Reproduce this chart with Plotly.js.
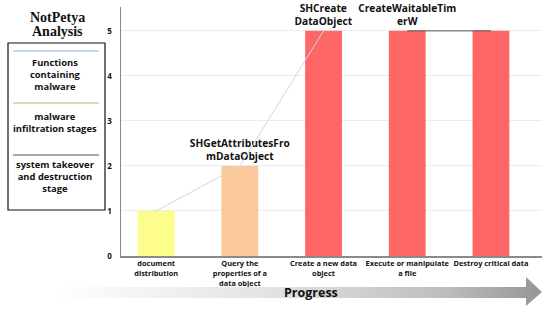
<!DOCTYPE html>
<html><head><meta charset="utf-8">
<script src="https://cdn.plot.ly/plotly-3.0.1.min.js"></script>
<style>html,body{margin:0;padding:0;background:#fff}#chart{width:550px;height:311px}</style>
</head><body><div id="chart"></div>
<script>
// ---- data ----
const categories = ['document<br>distribution','Query the<br>properties of a<br>data object','Create a new data<br>object','Execute or manipulate<br>a file','Destroy critical data'];
const values = [1, 2, 5, 5, 5];
const apiLabels = ['', 'SHGetAttributesFro<br>mDataObject', 'SHCreate<br>DataObject', 'CreateWaitableTim<br>erW', ''];
const barColors = ['#fdfd8e', '#f9c99b', '#ff6767', '#ff6767', '#ff6767'];
const infiltrationX = [categories[0], categories[1]];
const infiltrationY = [1, 2];
const functionsX = [categories[1], categories[2]];
const functionsY = [2, 5];
const takeoverX = [categories[3], categories[4]];
const takeoverY = [5, 5];
const legendItems = ['Functions<br>containing<br>malware', 'malware<br>infiltration stages', 'system takeover<br>and destruction<br>stage'];
const legendColors = ['#c6d6ee', '#d8dcbc', '#555555'];
// arrow outline (decoration, figure pixel coords)
const arrowX = [55, 526, 526, 542, 526, 526, 55, 55];
const arrowY = [287, 287, 277, 292, 306, 298, 298, 287];

const W = 550, H = 311;
const F = 'Open Sans, Noto Sans, sans-serif';
const px = v => v / W, py = v => 1 - v / H;

const traces = [
  {type:'scatter', x: arrowX, y: arrowY, xaxis:'x3', yaxis:'y3', mode:'lines', line:{width:0},
   fill:'toself', fillgradient:{type:'horizontal', colorscale:[[0,'#ffffff'],[0.45,'#e2e2e2'],[0.8,'#bdbdbd'],[1,'#959595']]},
   hoverinfo:'skip', showlegend:false},
  {type:'bar', x: categories, y: values, width: 0.44, marker:{color: barColors},
   text: apiLabels, textposition:'outside', constraintext:'none', cliponaxis:false,
   textfont:{family:F, size:10.2, weight:700, color:'#111'}, hoverinfo:'x+y', showlegend:false},
  {type:'scatter', mode:'lines', x: infiltrationX, y: infiltrationY, line:{color: legendColors[1], width:1}, showlegend:false},
  {type:'scatter', mode:'lines', x: functionsX, y: functionsY, line:{color: legendColors[0], width:1}, showlegend:false},
  {type:'scatter', mode:'lines', x: takeoverX, y: takeoverY, line:{color: legendColors[2], width:1}, showlegend:false}
];

const legTop = [51, 103, 155];
const legText = [74, 122, 176];
const shapes = [
  {type:'rect', xref:'paper', yref:'paper', x0:px(8), x1:px(105), y0:py(210), y1:py(43), line:{color:'#111', width:1.2}}
];
const ann = (x, y, text, font) => ({xref:'paper', yref:'paper', x:px(x), y:py(y), xanchor:'center', yanchor:'middle', text, showarrow:false, font});
const annotations = [
  ann(57, 17, 'NotPetya', {family:'Liberation Serif, serif', size:14, weight:700, color:'#111'}),
  ann(57, 32, 'Analysis', {family:'Liberation Serif, serif', size:14, weight:700, color:'#111'}),
  ann(311, 292, 'Progress', {family:F, size:12.5, weight:700, color:'#111'})
];
legendItems.forEach((t, i) => {
  shapes.push({type:'line', xref:'paper', yref:'paper', x0:px(13), x1:px(99), y0:py(legTop[i]), y1:py(legTop[i]), line:{color: legendColors[i], width: i === 2 ? 1.2 : 2}});
  annotations.push(ann(55, legText[i], t, {family:F, size:9.4, weight:700, color:'#111'}));
});

const layout = {
  width: W, height: H, margin:{l:0, r:0, t:0, b:0, autoexpand:false},
  paper_bgcolor:'#fff', plot_bgcolor:'rgba(0,0,0,0)', showlegend:false,
  xaxis:{type:'category', domain:[px(121), px(542)], range:[-0.42, 4.61], anchor:'y', automargin:false,
    showline:true, linecolor:'#8a8a8a', linewidth:1.5, showgrid:false, ticks:'', tickangle:0, fixedrange:true,
    tickfont:{family:F, size:7.4, weight:700, color:'#111'}},
  yaxis:{domain:[55/H, 304/H], range:[0, 5.53], dtick:1, anchor:'x', automargin:false,
    showline:true, linecolor:'#8a8a8a', linewidth:1.5, gridcolor:'#ececec', zeroline:false, ticks:'', ticklabelstandoff:6,
    tickfont:{family:F, size:8, weight:700, color:'#111'}},
  xaxis2:{overlaying:'x', anchor:'y', side:'top', range:[0, 6], dtick:1, showgrid:true, gridcolor:'#ececec',
    showticklabels:false, showline:true, linecolor:'#e4e4e4', zeroline:false, ticks:''},
  yaxis2:{overlaying:'y', anchor:'x', side:'right', range:[0, 5.53], showgrid:false, showticklabels:false,
    showline:true, linecolor:'#e4e4e4', zeroline:false, ticks:''},
  xaxis3:{domain:[0,1], range:[0, W], anchor:'y3', visible:false, fixedrange:true},
  yaxis3:{domain:[0,1], range:[H, 0], anchor:'x3', visible:false, fixedrange:true},
  shapes: shapes, annotations: annotations
};
Plotly.newPlot('chart', traces, layout, {displayModeBar:false, staticPlot:true});
</script></body></html>
